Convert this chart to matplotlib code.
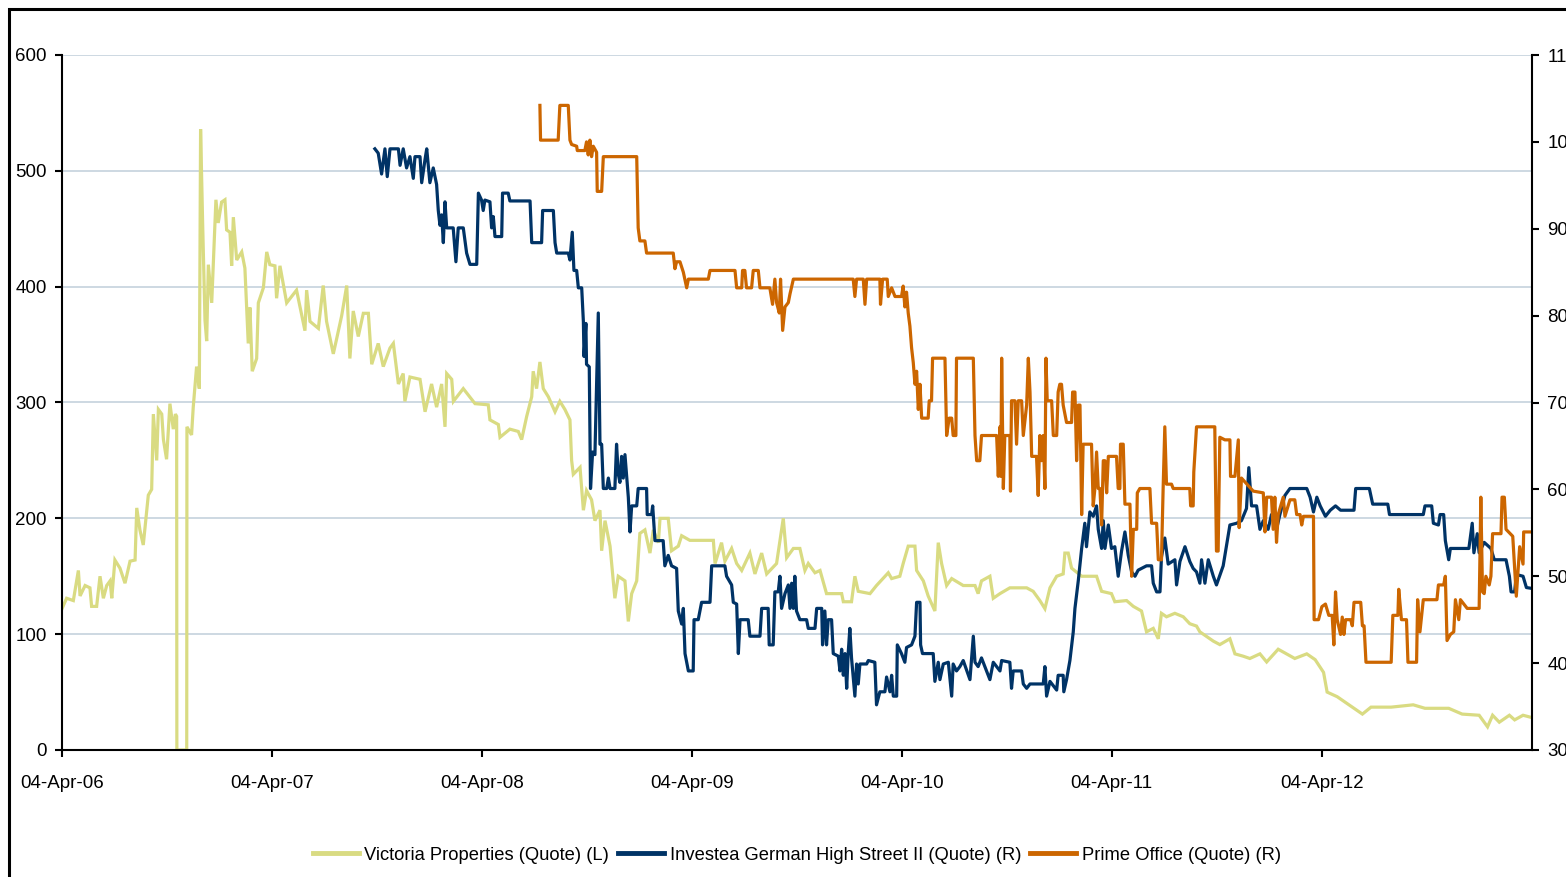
import numpy as np
import pandas as pd
import matplotlib
matplotlib.use('Agg')
import matplotlib.pyplot as plt
import matplotlib.dates as mdates
from matplotlib.patches import Rectangle
from matplotlib.font_manager import FontProperties

plt.rcParams['font.family'] = ['Liberation Sans', 'DejaVu Sans']

# time is given in years after 04-Apr-2006, values are quotes
start_date = '2006-04-04'
end_date = '2013-04-04'
tick_years = [2006, 2007, 2008, 2009, 2010, 2011, 2012]

labels = ['Victoria Properties (Quote) (L)',
          'Investea German High Street II (Quote) (R)',
          'Prime Office (Quote) (R)']

# Victoria Properties, left axis
victoria = [
    (0.000, 122), (0.022, 131), (0.054, 129), (0.078, 155), (0.086, 133), (0.110, 142), (0.133, 140), (0.141, 124),
    (0.165, 124), (0.181, 150), (0.197, 131), (0.213, 142), (0.229, 146), (0.237, 131), (0.252, 164), (0.276, 157),
    (0.300, 144), (0.324, 163), (0.348, 164), (0.356, 209), (0.371, 190), (0.387, 177), (0.411, 220), (0.427, 225),
    (0.435, 290), (0.451, 250), (0.459, 294), (0.475, 290), (0.483, 268), (0.498, 251), (0.514, 299), (0.530, 277),
    (0.540, 290), (0.546, 288), (0.547, 0), (0.594, 0), (0.595, 279), (0.617, 272), (0.625, 296), (0.641, 331),
    (0.654, 312), (0.660, 536), (0.670, 453), (0.681, 371), (0.689, 353), (0.697, 419), (0.713, 386), (0.721, 421),
    (0.733, 475), (0.744, 455), (0.760, 473), (0.776, 475), (0.784, 449), (0.800, 447), (0.808, 418), (0.816, 460),
    (0.832, 423), (0.856, 430), (0.871, 416), (0.887, 351), (0.895, 382), (0.906, 327), (0.927, 338), (0.935, 386),
    (0.959, 399), (0.975, 430), (0.990, 419), (1.014, 418), (1.022, 390), (1.038, 418), (1.070, 386), (1.117, 397),
    (1.157, 362), (1.165, 397), (1.181, 370), (1.221, 364), (1.244, 401), (1.260, 370), (1.292, 342), (1.308, 355),
    (1.332, 375), (1.356, 401), (1.371, 338), (1.387, 379), (1.411, 357), (1.435, 377), (1.459, 377), (1.475, 333),
    (1.506, 351), (1.530, 331), (1.562, 347), (1.578, 351), (1.602, 316), (1.625, 325), (1.633, 301), (1.657, 322),
    (1.705, 320), (1.729, 292), (1.760, 316), (1.784, 296), (1.808, 316), (1.824, 279), (1.832, 325), (1.856, 320),
    (1.864, 301), (1.911, 312), (1.967, 299), (2.030, 298), (2.038, 285), (2.078, 281), (2.086, 270), (2.133, 277),
    (2.173, 275), (2.189, 268), (2.213, 288), (2.237, 305), (2.244, 327), (2.260, 312), (2.276, 335), (2.292, 312),
    (2.316, 305), (2.348, 292), (2.371, 301), (2.395, 294), (2.419, 285), (2.427, 250), (2.435, 238), (2.467, 244),
    (2.483, 207), (2.498, 224), (2.522, 216), (2.538, 198), (2.562, 207), (2.570, 172), (2.586, 198), (2.610, 176),
    (2.633, 131), (2.649, 150), (2.681, 146), (2.697, 111), (2.713, 135), (2.737, 146), (2.752, 187), (2.776, 190),
    (2.800, 170), (2.816, 190), (2.840, 179), (2.848, 200), (2.887, 200), (2.903, 172), (2.935, 176), (2.951, 185),
    (2.990, 181), (3.102, 181), (3.110, 161), (3.141, 179), (3.157, 163), (3.189, 174), (3.213, 161), (3.237, 155),
    (3.276, 170), (3.300, 152), (3.332, 170), (3.356, 152), (3.403, 161), (3.435, 200), (3.451, 166), (3.483, 174),
    (3.514, 174), (3.538, 155), (3.554, 161), (3.586, 153), (3.610, 155), (3.641, 135), (3.713, 135), (3.721, 128),
    (3.760, 128), (3.776, 150), (3.792, 137), (3.848, 135), (3.879, 142), (3.935, 153), (3.951, 148), (3.990, 150),
    (4.006, 161), (4.030, 176), (4.062, 176), (4.070, 155), (4.102, 146), (4.125, 133), (4.157, 120), (4.173, 179),
    (4.189, 161), (4.213, 142), (4.237, 148), (4.292, 142), (4.348, 142), (4.363, 135), (4.379, 146), (4.419, 150),
    (4.435, 131), (4.467, 135), (4.514, 140), (4.594, 140), (4.625, 137), (4.657, 129), (4.681, 122), (4.705, 140),
    (4.737, 150), (4.768, 152), (4.776, 170), (4.792, 170), (4.808, 157), (4.856, 150), (4.927, 150), (4.951, 137),
    (4.998, 135), (5.014, 128), (5.070, 129), (5.102, 124), (5.141, 120), (5.165, 102), (5.197, 105), (5.221, 96),
    (5.236, 118), (5.260, 115), (5.300, 118), (5.340, 115), (5.371, 109), (5.403, 107), (5.419, 102), (5.483, 94),
    (5.514, 91), (5.562, 96), (5.586, 83), (5.625, 81), (5.657, 79), (5.705, 83), (5.737, 76), (5.792, 87),
    (5.832, 83), (5.871, 79), (5.928, 83), (5.968, 78), (6.008, 67), (6.025, 50), (6.073, 46), (6.129, 39),
    (6.193, 31), (6.234, 37), (6.330, 37), (6.435, 39), (6.491, 36), (6.604, 36), (6.668, 31), (6.749, 30),
    (6.789, 20), (6.813, 30), (6.845, 24), (6.893, 30), (6.918, 26), (6.958, 30), (7.000, 28),
]

# Investea German High Street II, right axis
investea = [
    (1.490, 99.2), (1.506, 98.7), (1.522, 96.3), (1.538, 99.2), (1.549, 96.0), (1.562, 99.2), (1.602, 99.2), (1.610, 97.3),
    (1.625, 99.2), (1.641, 97.0), (1.657, 98.3), (1.673, 95.8), (1.681, 98.3), (1.705, 98.3), (1.713, 95.3), (1.729, 98.0),
    (1.737, 99.2), (1.752, 95.3), (1.768, 97.0), (1.784, 95.1), (1.792, 92.1), (1.800, 90.4), (1.808, 91.6), (1.816, 88.4),
    (1.824, 93.1), (1.832, 90.1), (1.863, 90.1), (1.876, 86.2), (1.887, 90.1), (1.911, 90.1), (1.927, 87.2), (1.943, 85.9),
    (1.975, 85.9), (1.983, 94.1), (1.998, 93.3), (2.006, 92.1), (2.014, 93.3), (2.038, 93.1), (2.046, 90.1), (2.054, 91.4),
    (2.062, 89.1), (2.094, 89.1), (2.098, 94.1), (2.125, 94.1), (2.133, 93.2), (2.229, 93.2), (2.237, 88.4), (2.284, 88.4),
    (2.289, 92.1), (2.340, 92.1), (2.348, 88.4), (2.356, 87.2), (2.411, 87.2), (2.419, 86.4), (2.430, 89.6), (2.438, 85.2),
    (2.451, 85.2), (2.459, 83.2), (2.475, 83.2), (2.483, 79.3), (2.486, 75.3), (2.495, 79.1), (2.498, 74.4), (2.511, 74.1),
    (2.517, 60.1), (2.527, 64.3), (2.538, 64.0), (2.554, 80.3), (2.562, 65.2), (2.570, 65.2), (2.578, 60.1), (2.594, 60.1),
    (2.602, 61.3), (2.610, 60.1), (2.633, 60.1), (2.641, 65.2), (2.649, 61.8), (2.657, 60.8), (2.665, 63.8), (2.673, 61.3),
    (2.681, 64.0), (2.697, 59.1), (2.705, 55.1), (2.713, 58.1), (2.737, 58.1), (2.744, 60.1), (2.784, 60.1), (2.787, 57.1),
    (2.808, 57.1), (2.813, 58.1), (2.824, 54.1), (2.863, 54.1), (2.871, 51.2), (2.887, 52.4), (2.903, 51.2), (2.927, 50.9),
    (2.935, 46.0), (2.951, 44.5), (2.959, 46.3), (2.967, 41.1), (2.983, 39.1), (3.006, 39.1), (3.010, 45.0), (3.030, 45.0),
    (3.046, 47.0), (3.086, 47.0), (3.094, 51.2), (3.157, 51.2), (3.165, 50.0), (3.189, 49.0), (3.197, 47.0), (3.213, 46.8),
    (3.221, 41.1), (3.229, 45.0), (3.268, 45.0), (3.276, 43.1), (3.324, 43.1), (3.332, 46.3), (3.363, 46.3), (3.368, 42.1),
    (3.387, 42.1), (3.395, 48.2), (3.411, 48.2), (3.419, 50.0), (3.427, 46.3), (3.443, 48.0), (3.459, 49.0), (3.467, 46.3),
    (3.475, 49.2), (3.483, 46.3), (3.490, 50.0), (3.498, 46.0), (3.514, 45.0), (3.546, 45.0), (3.554, 44.0), (3.586, 44.0),
    (3.594, 46.3), (3.618, 46.3), (3.622, 42.1), (3.633, 46.0), (3.641, 42.1), (3.649, 45.0), (3.665, 45.0), (3.673, 41.1),
    (3.697, 40.8), (3.705, 39.1), (3.713, 41.6), (3.721, 38.6), (3.729, 41.1), (3.737, 37.1), (3.744, 41.1), (3.752, 44.0),
    (3.760, 40.6), (3.776, 36.2), (3.784, 39.9), (3.792, 37.6), (3.800, 39.9), (3.832, 39.9), (3.840, 40.3), (3.871, 40.1),
    (3.879, 35.2), (3.895, 36.7), (3.919, 36.7), (3.927, 38.4), (3.943, 36.7), (3.951, 38.6), (3.959, 36.2), (3.975, 36.2),
    (3.978, 42.1), (3.998, 41.1), (4.014, 40.1), (4.022, 41.8), (4.046, 42.1), (4.062, 43.1), (4.070, 47.0), (4.086, 47.0),
    (4.089, 42.1), (4.098, 41.1), (4.149, 41.1), (4.157, 37.9), (4.173, 40.1), (4.181, 38.1), (4.197, 39.9), (4.221, 40.1),
    (4.237, 36.2), (4.244, 39.9), (4.260, 39.1), (4.276, 39.6), (4.292, 40.3), (4.324, 38.1), (4.340, 43.1), (4.348, 40.1),
    (4.363, 39.6), (4.379, 40.6), (4.395, 39.6), (4.419, 38.1), (4.435, 40.1), (4.467, 39.1), (4.475, 40.3), (4.514, 40.1),
    (4.522, 37.1), (4.530, 39.1), (4.570, 39.1), (4.578, 37.6), (4.594, 37.1), (4.610, 37.6), (4.673, 37.6), (4.681, 39.6),
    (4.689, 36.2), (4.705, 37.9), (4.737, 36.9), (4.744, 38.6), (4.768, 38.6), (4.771, 36.7), (4.784, 38.1), (4.800, 40.3),
    (4.816, 43.6), (4.824, 46.3), (4.840, 49.5), (4.856, 53.2), (4.871, 56.1), (4.879, 53.4), (4.895, 57.4), (4.911, 56.9),
    (4.927, 58.1), (4.935, 55.4), (4.951, 53.2), (4.959, 56.4), (4.967, 53.2), (4.983, 55.9), (4.998, 53.2), (5.014, 53.4),
    (5.030, 50.0), (5.046, 52.9), (5.062, 55.1), (5.078, 52.4), (5.094, 50.5), (5.110, 50.0), (5.125, 50.7), (5.165, 51.2),
    (5.189, 51.2), (5.197, 49.2), (5.213, 48.2), (5.229, 48.2), (5.236, 52.2), (5.252, 54.4), (5.268, 51.4), (5.300, 51.9),
    (5.308, 49.0), (5.324, 51.7), (5.348, 53.4), (5.371, 51.7), (5.387, 50.9), (5.403, 50.5), (5.419, 49.2), (5.427, 51.9),
    (5.443, 49.2), (5.459, 51.9), (5.483, 50.0), (5.498, 49.0), (5.530, 51.2), (5.562, 55.9), (5.594, 56.1), (5.617, 56.4),
    (5.641, 57.8), (5.652, 62.5), (5.665, 58.1), (5.689, 58.1), (5.705, 55.4), (5.721, 56.4), (5.744, 55.4), (5.760, 57.1),
    (5.784, 55.4), (5.800, 57.1), (5.824, 59.3), (5.848, 60.1), (5.928, 60.1), (5.944, 59.1), (5.960, 57.4), (5.976, 59.1),
    (5.992, 58.1), (6.017, 56.9), (6.040, 57.6), (6.065, 58.1), (6.089, 57.6), (6.153, 57.6), (6.161, 60.1), (6.226, 60.1),
    (6.242, 58.3), (6.314, 58.3), (6.322, 57.1), (6.483, 57.1), (6.491, 58.1), (6.523, 58.1), (6.531, 56.1), (6.555, 55.9),
    (6.563, 57.1), (6.580, 57.1), (6.588, 54.1), (6.604, 51.9), (6.612, 53.2), (6.700, 53.2), (6.716, 56.1), (6.724, 52.7),
    (6.740, 54.9), (6.749, 52.7), (6.773, 53.9), (6.805, 53.2), (6.821, 51.9), (6.877, 51.9), (6.893, 50.0), (6.901, 48.2),
    (6.918, 48.2), (6.926, 50.2), (6.958, 50.0), (6.974, 48.7), (7.000, 48.6),
]

# Prime Office, right axis
prime_office = [
    (2.276, 104.2), (2.279, 100.2), (2.363, 100.2), (2.371, 104.2), (2.411, 104.2), (2.419, 100.2), (2.427, 99.7), (2.451, 99.5),
    (2.454, 99.0), (2.490, 99.0), (2.498, 100.0), (2.506, 98.5), (2.514, 100.2), (2.522, 98.3), (2.530, 99.5), (2.546, 98.8),
    (2.549, 94.3), (2.570, 94.3), (2.578, 98.3), (2.737, 98.3), (2.744, 90.1), (2.752, 88.6), (2.776, 88.6), (2.784, 87.2),
    (2.911, 87.2), (2.919, 85.4), (2.927, 86.2), (2.943, 86.2), (2.959, 85.0), (2.975, 83.2), (2.983, 84.2), (3.078, 84.2),
    (3.086, 85.2), (3.205, 85.2), (3.213, 83.2), (3.237, 83.2), (3.241, 85.2), (3.252, 85.2), (3.260, 83.2), (3.284, 83.2),
    (3.292, 85.2), (3.316, 85.2), (3.324, 83.2), (3.371, 83.2), (3.384, 81.3), (3.395, 84.2), (3.403, 81.5), (3.416, 80.3),
    (3.422, 84.2), (3.432, 78.3), (3.443, 81.0), (3.459, 81.5), (3.467, 82.5), (3.483, 84.2), (3.768, 84.2), (3.776, 82.2),
    (3.784, 84.2), (3.816, 84.2), (3.824, 81.3), (3.832, 84.2), (3.895, 84.2), (3.898, 81.3), (3.908, 84.2), (3.930, 84.2),
    (3.935, 82.2), (3.951, 83.2), (3.967, 82.2), (3.998, 82.2), (4.006, 83.4), (4.014, 81.0), (4.022, 82.7), (4.030, 80.3),
    (4.038, 78.8), (4.046, 76.3), (4.054, 74.6), (4.062, 72.1), (4.070, 73.6), (4.078, 69.2), (4.086, 72.1), (4.094, 68.2),
    (4.125, 68.2), (4.130, 70.2), (4.141, 70.2), (4.146, 75.1), (4.205, 75.1), (4.213, 66.2), (4.225, 68.2), (4.237, 68.2),
    (4.244, 66.2), (4.257, 66.2), (4.260, 75.1), (4.340, 75.1), (4.348, 66.2), (4.356, 63.3), (4.371, 63.3), (4.379, 66.2),
    (4.451, 66.2), (4.459, 61.5), (4.467, 67.2), (4.471, 61.5), (4.475, 75.1), (4.483, 60.1), (4.490, 66.2), (4.514, 66.2),
    (4.517, 59.8), (4.522, 70.2), (4.538, 70.2), (4.546, 65.2), (4.554, 70.2), (4.570, 70.2), (4.578, 66.2), (4.594, 69.7),
    (4.602, 75.1), (4.610, 71.2), (4.618, 63.8), (4.641, 63.8), (4.649, 59.3), (4.657, 66.2), (4.665, 63.3), (4.673, 66.2),
    (4.681, 60.1), (4.686, 75.1), (4.692, 70.2), (4.713, 70.2), (4.721, 66.2), (4.737, 66.2), (4.744, 71.2), (4.752, 72.1),
    (4.760, 72.1), (4.768, 69.7), (4.784, 67.7), (4.808, 67.7), (4.813, 71.2), (4.824, 71.2), (4.832, 63.3), (4.840, 69.7),
    (4.848, 69.7), (4.856, 57.1), (4.863, 65.2), (4.903, 65.2), (4.911, 58.1), (4.919, 60.1), (4.927, 64.3), (4.935, 60.1),
    (4.943, 60.1), (4.951, 55.9), (4.959, 63.3), (4.967, 63.3), (4.975, 59.6), (4.983, 63.8), (5.022, 63.8), (5.030, 60.1),
    (5.038, 60.1), (5.041, 65.2), (5.054, 65.2), (5.062, 58.3), (5.086, 58.3), (5.094, 50.0), (5.102, 55.4), (5.118, 55.4),
    (5.121, 59.6), (5.133, 60.1), (5.181, 60.1), (5.189, 56.1), (5.213, 56.1), (5.221, 51.9), (5.236, 51.9), (5.244, 60.1),
    (5.252, 67.2), (5.260, 60.6), (5.284, 60.6), (5.292, 60.1), (5.371, 60.1), (5.375, 58.1), (5.387, 58.1), (5.390, 62.0),
    (5.403, 67.2), (5.490, 67.2), (5.498, 52.9), (5.506, 52.9), (5.514, 66.0), (5.538, 65.7), (5.562, 65.7), (5.565, 61.5),
    (5.586, 61.5), (5.602, 65.7), (5.606, 55.6), (5.617, 61.3), (5.673, 59.8), (5.721, 59.6), (5.729, 55.1), (5.737, 59.1),
    (5.760, 59.1), (5.768, 55.4), (5.776, 59.1), (5.784, 53.9), (5.792, 57.1), (5.816, 59.1), (5.824, 56.9), (5.848, 58.8),
    (5.871, 58.8), (5.880, 57.1), (5.896, 57.1), (5.904, 55.9), (5.912, 56.9), (5.960, 56.9), (5.963, 45.0), (5.984, 45.0),
    (6.000, 46.5), (6.017, 46.8), (6.033, 45.5), (6.049, 45.5), (6.057, 42.1), (6.065, 48.2), (6.073, 45.0), (6.089, 43.3),
    (6.097, 45.3), (6.105, 43.3), (6.113, 45.0), (6.137, 45.0), (6.145, 44.3), (6.153, 47.0), (6.185, 47.0), (6.193, 44.3),
    (6.201, 44.3), (6.210, 40.1), (6.330, 40.1), (6.338, 45.5), (6.362, 45.5), (6.366, 48.5), (6.379, 45.0), (6.403, 45.0),
    (6.410, 40.1), (6.451, 40.1), (6.456, 47.3), (6.467, 43.6), (6.483, 47.3), (6.548, 47.3), (6.555, 49.0), (6.580, 49.0),
    (6.588, 50.0), (6.596, 42.6), (6.612, 43.3), (6.628, 43.6), (6.636, 47.3), (6.652, 45.0), (6.660, 47.3), (6.692, 46.3),
    (6.749, 46.3), (6.757, 59.1), (6.765, 48.2), (6.773, 48.0), (6.781, 50.0), (6.797, 49.0), (6.805, 50.0), (6.813, 54.9),
    (6.853, 54.9), (6.858, 59.1), (6.869, 59.1), (6.877, 55.4), (6.909, 54.6), (6.926, 47.7), (6.942, 53.4), (6.958, 51.4),
    (6.961, 55.1), (7.000, 55.1),
]

colors = ['#D9DB82', '#003366', '#CC6600']


def to_dates(series):
    t = np.array([p[0] for p in series])
    v = np.array([p[1] for p in series])
    d = pd.Timestamp(start_date) + pd.to_timedelta(t * 365.25, unit='D')
    return d, v


fig = plt.figure(figsize=(15.66, 8.77), dpi=100)
ax = fig.add_axes([62 / 1566, 1 - 750 / 877, 1470 / 1566, 695 / 877])
ax2 = ax.twinx()

d, v = to_dates(victoria)
l1, = ax.plot(d, v, color=colors[0], lw=2.3, solid_joinstyle='miter')
d, v = to_dates(investea)
l2, = ax2.plot(d, v, color=colors[1], lw=2.3)
d, v = to_dates(prime_office)
l3, = ax2.plot(d, v, color=colors[2], lw=2.3)

ax.set_xlim(pd.Timestamp(start_date), pd.Timestamp(end_date))
ax.set_xticks([pd.Timestamp(f'{y}-04-04') for y in tick_years])
ax.xaxis.set_major_formatter(mdates.DateFormatter('%d-%b-%y'))
ax.set_ylim(0, 600)
ax.set_yticks(range(0, 601, 100))
ax2.set_ylim(30, 110)
ax2.set_yticks(range(30, 111, 10))

ax.grid(axis='y', color='#C9D5DF', lw=1.3)
ax.set_axisbelow(True)

for a in (ax, ax2):
    a.spines['top'].set_visible(False)
ax.spines['right'].set_visible(False)
ax2.spines['left'].set_visible(False)
ax2.spines['bottom'].set_visible(False)
for s in ('left', 'bottom'):
    ax.spines[s].set_linewidth(1.5)
ax2.spines['right'].set_linewidth(1.5)

ax.tick_params(axis='y', length=5, width=1.5, labelsize=13.5, pad=6)
ax.tick_params(axis='x', length=5, width=1.5, labelsize=13.5, pad=13)
ax2.tick_params(axis='y', length=5, width=1.5, labelsize=13.5, pad=6)

# outer frame of the chart object
fig.patches.append(Rectangle((9 / 1566, -0.05), 1.2, 1.05 - 9 / 877,
                             transform=fig.transFigure, fill=False,
                             ec='black', lw=2.2))

leg_font = FontProperties(family=['Liberation Sans Narrow', 'Liberation Sans', 'DejaVu Sans'], size=13.2)
leg = fig.legend([l1, l2, l3], labels, loc='center', ncol=3, frameon=False,
                 bbox_to_anchor=(797 / 1566, 1 - 855 / 877), prop=leg_font,
                 handlelength=2.5, handletextpad=0.3, columnspacing=0.5)
for h in leg.get_lines():
    h.set_linewidth(3.5)

fig.savefig('out.png', dpi=100)
